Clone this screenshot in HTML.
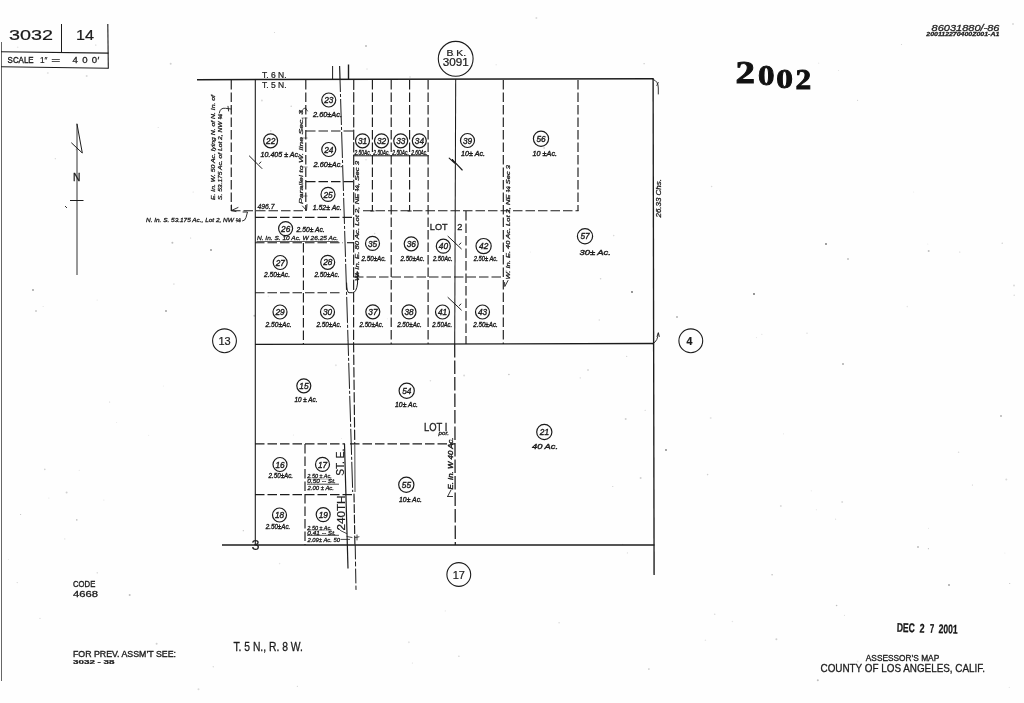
<!DOCTYPE html>
<html><head><meta charset="utf-8"><title>Assessor's Map 3032-14</title>
<style>
html,body{margin:0;padding:0;background:#fefefe;}
body{width:1024px;height:703px;overflow:hidden;font-family:"Liberation Sans",sans-serif;}
svg{display:block;filter:blur(0.22px);}
</style></head><body>
<svg width="1024" height="703" viewBox="0 0 1024 703">
<rect width="1024" height="703" fill="#fefefe"/>
<g><circle cx="333.7" cy="109.8" r="0.5" fill="#000" opacity="0.1"/>
<circle cx="838.6" cy="70.4" r="0.5" fill="#000" opacity="0.14"/>
<circle cx="43.1" cy="306.4" r="0.5" fill="#000" opacity="0.14"/>
<circle cx="97.1" cy="300.0" r="0.5" fill="#000" opacity="0.14"/>
<circle cx="645.1" cy="410.2" r="0.5" fill="#000" opacity="0.25"/>
<circle cx="55.3" cy="158.7" r="0.6" fill="#000" opacity="0.18"/>
<circle cx="430.4" cy="380.8" r="0.8" fill="#000" opacity="0.14"/>
<circle cx="109.6" cy="402.0" r="0.6" fill="#000" opacity="0.18"/>
<circle cx="103.9" cy="499.9" r="0.5" fill="#000" opacity="0.14"/>
<circle cx="508.9" cy="374.5" r="0.8" fill="#000" opacity="0.25"/>
<circle cx="599.3" cy="320.0" r="0.8" fill="#000" opacity="0.14"/>
<circle cx="811.3" cy="490.8" r="0.6" fill="#000" opacity="0.1"/>
<circle cx="588.0" cy="370.0" r="0.8" fill="#000" opacity="0.25"/>
<circle cx="297.3" cy="686.2" r="0.5" fill="#000" opacity="0.25"/>
<circle cx="172.4" cy="242.7" r="1.0" fill="#000" opacity="0.25"/>
<circle cx="44.8" cy="469.4" r="0.8" fill="#000" opacity="0.18"/>
<circle cx="710.7" cy="418.1" r="1.0" fill="#000" opacity="0.1"/>
<circle cx="857.6" cy="661.6" r="1.0" fill="#000" opacity="0.1"/>
<circle cx="66.6" cy="492.5" r="1.0" fill="#000" opacity="0.18"/>
<circle cx="732.4" cy="621.5" r="0.8" fill="#000" opacity="0.1"/>
<circle cx="959.8" cy="252.0" r="0.5" fill="#000" opacity="0.25"/>
<circle cx="64.8" cy="538.9" r="0.6" fill="#000" opacity="0.14"/>
<circle cx="408.9" cy="642.2" r="1.0" fill="#000" opacity="0.1"/>
<circle cx="173.9" cy="284.1" r="0.8" fill="#000" opacity="0.14"/>
<circle cx="836.6" cy="605.5" r="0.8" fill="#000" opacity="0.25"/>
<circle cx="1006.3" cy="479.5" r="1.0" fill="#000" opacity="0.14"/>
<circle cx="158.2" cy="127.5" r="0.6" fill="#000" opacity="0.14"/>
<circle cx="17.2" cy="582.6" r="0.6" fill="#000" opacity="0.18"/>
<circle cx="291.2" cy="106.2" r="0.8" fill="#000" opacity="0.18"/>
<circle cx="972.4" cy="484.9" r="0.5" fill="#000" opacity="0.25"/>
<circle cx="918.0" cy="547.1" r="1.0" fill="#000" opacity="0.25"/>
<circle cx="410.0" cy="77.0" r="1.0" fill="#000" opacity="0.1"/>
<circle cx="198.5" cy="689.3" r="1.0" fill="#000" opacity="0.14"/>
<circle cx="116.6" cy="422.5" r="0.5" fill="#000" opacity="0.1"/>
<circle cx="580.3" cy="377.9" r="0.8" fill="#000" opacity="0.1"/>
<circle cx="76.4" cy="149.5" r="1.0" fill="#000" opacity="0.14"/>
<circle cx="648.9" cy="669.1" r="0.8" fill="#000" opacity="0.25"/>
<circle cx="129.7" cy="595.0" r="1.0" fill="#000" opacity="0.25"/>
<circle cx="496.1" cy="64.7" r="0.5" fill="#000" opacity="0.18"/>
<circle cx="756.5" cy="337.6" r="0.6" fill="#000" opacity="0.1"/>
<circle cx="213.3" cy="666.7" r="0.8" fill="#000" opacity="0.14"/>
<circle cx="705.4" cy="640.3" r="0.8" fill="#000" opacity="0.1"/>
<circle cx="711.6" cy="186.5" r="0.8" fill="#000" opacity="0.14"/>
<circle cx="366.0" cy="159.8" r="0.8" fill="#000" opacity="0.14"/>
<circle cx="627.4" cy="552.9" r="0.6" fill="#000" opacity="0.14"/>
<circle cx="835.6" cy="519.2" r="0.6" fill="#000" opacity="0.14"/>
<circle cx="530.4" cy="252.1" r="0.5" fill="#000" opacity="0.1"/>
<circle cx="807.0" cy="333.2" r="0.6" fill="#000" opacity="0.18"/>
<circle cx="458.9" cy="656.2" r="0.8" fill="#000" opacity="0.18"/>
<circle cx="86.7" cy="76.0" r="1.0" fill="#000" opacity="0.14"/>
<circle cx="347.8" cy="340.4" r="0.5" fill="#000" opacity="0.25"/>
<circle cx="927.8" cy="244.1" r="0.5" fill="#000" opacity="0.1"/>
<circle cx="928.4" cy="548.7" r="0.6" fill="#000" opacity="0.25"/>
<circle cx="907.3" cy="306.6" r="0.8" fill="#000" opacity="0.1"/>
<circle cx="817.8" cy="680.3" r="1.0" fill="#000" opacity="0.25"/>
<circle cx="412.4" cy="663.0" r="0.6" fill="#000" opacity="0.14"/>
<circle cx="1013.0" cy="24.1" r="1.0" fill="#000" opacity="0.14"/>
<circle cx="625.7" cy="419.1" r="1.0" fill="#000" opacity="0.18"/>
<circle cx="163.3" cy="386.1" r="0.5" fill="#000" opacity="0.1"/>
<circle cx="816.3" cy="509.8" r="0.5" fill="#000" opacity="0.14"/>
<circle cx="445.3" cy="610.9" r="0.6" fill="#000" opacity="0.1"/>
<circle cx="260.6" cy="208.6" r="0.6" fill="#000" opacity="0.18"/>
<circle cx="268.3" cy="296.2" r="0.6" fill="#000" opacity="0.1"/>
<circle cx="928.7" cy="250.9" r="1.0" fill="#000" opacity="0.25"/>
<circle cx="844.5" cy="615.3" r="0.6" fill="#000" opacity="0.14"/>
<circle cx="536.4" cy="18.0" r="1.0" fill="#000" opacity="0.14"/>
<circle cx="622.7" cy="544.3" r="0.6" fill="#000" opacity="0.14"/>
<circle cx="148.7" cy="435.3" r="0.5" fill="#000" opacity="0.1"/>
<circle cx="335.9" cy="365.3" r="1.0" fill="#000" opacity="0.1"/>
<circle cx="901.5" cy="44.5" r="0.6" fill="#000" opacity="0.18"/>
<circle cx="47.8" cy="72.9" r="1.0" fill="#000" opacity="0.1"/>
<circle cx="776.4" cy="639.2" r="1.0" fill="#000" opacity="0.18"/>
<circle cx="626.7" cy="356.4" r="0.6" fill="#000" opacity="0.18"/>
<circle cx="464.1" cy="375.6" r="1.0" fill="#000" opacity="0.14"/>
<circle cx="714.7" cy="614.2" r="0.8" fill="#000" opacity="0.14"/>
<circle cx="857.6" cy="100.3" r="0.5" fill="#000" opacity="0.25"/>
<circle cx="453.7" cy="55.4" r="0.6" fill="#000" opacity="0.25"/>
<circle cx="79.2" cy="470.3" r="0.5" fill="#000" opacity="0.14"/>
<circle cx="958.6" cy="452.2" r="0.8" fill="#000" opacity="0.14"/>
<circle cx="261.9" cy="100.4" r="1.0" fill="#000" opacity="0.14"/>
<circle cx="762.9" cy="70.4" r="1.0" fill="#000" opacity="0.14"/>
<circle cx="1009.7" cy="583.5" r="0.6" fill="#000" opacity="0.25"/>
<circle cx="1014.0" cy="285.6" r="1.0" fill="#000" opacity="0.14"/>
<circle cx="367.0" cy="69.1" r="0.8" fill="#000" opacity="0.1"/>
<circle cx="348.0" cy="323.8" r="0.5" fill="#000" opacity="0.25"/>
<circle cx="341.5" cy="438.6" r="0.5" fill="#000" opacity="0.1"/>
<circle cx="1004.9" cy="552.9" r="0.5" fill="#000" opacity="0.1"/>
<circle cx="274.5" cy="32.5" r="0.6" fill="#000" opacity="0.18"/>
<circle cx="772.1" cy="574.7" r="0.8" fill="#000" opacity="0.25"/>
<circle cx="156.6" cy="643.8" r="1.0" fill="#000" opacity="0.18"/>
<circle cx="95.8" cy="45.0" r="0.6" fill="#000" opacity="0.25"/>
<circle cx="913.7" cy="191.9" r="0.5" fill="#000" opacity="0.1"/>
<circle cx="818.7" cy="63.2" r="0.6" fill="#000" opacity="0.1"/>
<circle cx="273.4" cy="89.6" r="0.5" fill="#000" opacity="0.18"/>
<circle cx="1014.2" cy="295.3" r="0.8" fill="#000" opacity="0.14"/>
<circle cx="48.9" cy="498.1" r="0.5" fill="#000" opacity="0.14"/>
<circle cx="270.8" cy="130.9" r="0.8" fill="#000" opacity="0.18"/>
<circle cx="544.1" cy="148.1" r="1.0" fill="#000" opacity="0.14"/>
<circle cx="279.6" cy="563.6" r="0.8" fill="#000" opacity="0.1"/>
<circle cx="20.6" cy="514.5" r="0.6" fill="#000" opacity="0.25"/>
<circle cx="254.4" cy="315.7" r="1.0" fill="#000" opacity="0.25"/>
<circle cx="559.1" cy="622.7" r="0.8" fill="#000" opacity="0.14"/>
<circle cx="1002.2" cy="243.2" r="0.6" fill="#000" opacity="0.25"/>
<circle cx="1009.3" cy="687.4" r="0.6" fill="#000" opacity="0.1"/>
<circle cx="76.8" cy="519.9" r="0.8" fill="#000" opacity="0.25"/>
<circle cx="170.7" cy="63.7" r="1.0" fill="#000" opacity="0.18"/>
<circle cx="612.8" cy="486.4" r="0.5" fill="#000" opacity="0.25"/>
<circle cx="193.1" cy="192.0" r="0.5" fill="#000" opacity="0.18"/>
<circle cx="374.6" cy="233.6" r="0.8" fill="#000" opacity="0.14"/>
<circle cx="40.0" cy="618.3" r="0.6" fill="#000" opacity="0.18"/>
<circle cx="190.7" cy="238.1" r="0.5" fill="#000" opacity="0.25"/>
<circle cx="288.1" cy="460.9" r="0.6" fill="#000" opacity="0.1"/>
<circle cx="97.2" cy="572.8" r="0.6" fill="#000" opacity="0.25"/>
<circle cx="600.6" cy="278.8" r="0.8" fill="#000" opacity="0.18"/>
<circle cx="644.1" cy="63.7" r="0.6" fill="#000" opacity="0.25"/>
<circle cx="780.8" cy="505.9" r="1.0" fill="#000" opacity="0.14"/>
<circle cx="293.4" cy="435.0" r="0.6" fill="#000" opacity="0.1"/>
<circle cx="842.2" cy="501.9" r="1.0" fill="#000" opacity="0.14"/>
<circle cx="928.5" cy="528.2" r="0.5" fill="#000" opacity="0.14"/>
<circle cx="91.4" cy="34.1" r="0.8" fill="#000" opacity="0.1"/>
<circle cx="387.3" cy="318.7" r="0.5" fill="#000" opacity="0.1"/>
<circle cx="640.6" cy="478.1" r="1.0" fill="#000" opacity="0.18"/>
<circle cx="8.4" cy="559.4" r="0.5" fill="#000" opacity="0.1"/>
<circle cx="761.9" cy="334.3" r="0.5" fill="#000" opacity="0.18"/>
<circle cx="243.3" cy="530.7" r="0.6" fill="#000" opacity="0.25"/>
<circle cx="506.4" cy="270.9" r="1.0" fill="#000" opacity="0.18"/>
<circle cx="783.5" cy="433.8" r="0.6" fill="#000" opacity="0.1"/>
<circle cx="613.7" cy="235.6" r="0.8" fill="#000" opacity="0.14"/>
<circle cx="17.7" cy="47.2" r="0.8" fill="#000" opacity="0.1"/>
<circle cx="707.6" cy="474.6" r="0.8" fill="#000" opacity="0.18"/>
<circle cx="826" cy="244" r="0.9" fill="#000" opacity="0.55"/>
<circle cx="843" cy="364" r="0.8" fill="#000" opacity="0.55"/>
<circle cx="754" cy="294" r="0.9" fill="#000" opacity="0.6"/>
<circle cx="848" cy="259" r="0.8" fill="#000" opacity="0.4"/>
<circle cx="1001" cy="416" r="0.8" fill="#000" opacity="0.5"/>
<circle cx="949" cy="585" r="0.8" fill="#000" opacity="0.6"/>
<circle cx="666" cy="450" r="0.9" fill="#000" opacity="0.5"/>
<circle cx="33" cy="290" r="0.9" fill="#000" opacity="0.4"/>
<circle cx="36" cy="311" r="0.8" fill="#000" opacity="0.35"/>
<circle cx="211" cy="250" r="0.9" fill="#000" opacity="0.45"/>
<circle cx="166" cy="311" r="0.9" fill="#000" opacity="0.4"/>
<circle cx="366" cy="46" r="0.8" fill="#000" opacity="0.45"/>
<circle cx="632" cy="292" r="0.9" fill="#000" opacity="0.6"/>
<circle cx="677" cy="317" r="0.8" fill="#000" opacity="0.5"/></g>
<g><line x1="1.5" y1="42" x2="1.5" y2="681" stroke="#555" stroke-width="0.9"/>
<line x1="61.5" y1="24" x2="61.5" y2="52.5" stroke="#1c1c1c" stroke-width="1.0"/>
<line x1="107.8" y1="24" x2="108.3" y2="68.5" stroke="#1c1c1c" stroke-width="1.1"/>
<line x1="1" y1="51.8" x2="108.5" y2="53.1" stroke="#1c1c1c" stroke-width="1.1"/>
<line x1="1" y1="66.8" x2="108.5" y2="68.3" stroke="#1c1c1c" stroke-width="1.1"/>
<text x="9" y="40.2" font-family="Liberation Sans, sans-serif" font-size="15.5" font-style="normal" font-weight="normal" text-anchor="start" fill="#1c1c1c" textLength="44" lengthAdjust="spacingAndGlyphs" stroke="#1c1c1c" stroke-width="0.22">3032</text>
<text x="76" y="40.2" font-family="Liberation Sans, sans-serif" font-size="15.5" font-style="normal" font-weight="normal" text-anchor="start" fill="#1c1c1c" textLength="18" lengthAdjust="spacingAndGlyphs" stroke="#1c1c1c" stroke-width="0.22">14</text>
<text x="7.6" y="63.0" font-family="Liberation Sans, sans-serif" font-size="9.6" font-style="normal" font-weight="normal" text-anchor="start" fill="#1c1c1c" textLength="26" lengthAdjust="spacingAndGlyphs" stroke="#1c1c1c" stroke-width="0.4">SCALE</text>
<text x="40" y="63.2" font-family="Liberation Sans, sans-serif" font-size="9.6" font-style="normal" font-weight="normal" text-anchor="start" fill="#1c1c1c" textLength="7.5" lengthAdjust="spacingAndGlyphs" stroke="#1c1c1c" stroke-width="0.22">1&#8243;</text>
<text x="51.2" y="63.0" font-family="Liberation Sans, sans-serif" font-size="9.6" font-style="normal" font-weight="normal" text-anchor="start" fill="#1c1c1c" textLength="9" lengthAdjust="spacingAndGlyphs" stroke="#1c1c1c" stroke-width="0.22">=</text>
<text x="72.6" y="63.4" font-family="Liberation Sans, sans-serif" font-size="9.6" font-style="normal" font-weight="normal" text-anchor="start" fill="#1c1c1c" textLength="24.5" lengthAdjust="spacing" stroke="#1c1c1c" stroke-width="0.3">400</text>
<text x="97.6" y="63.0" font-family="Liberation Sans, sans-serif" font-size="9.6" font-style="normal" font-weight="normal" text-anchor="start" fill="#1c1c1c" stroke="#1c1c1c" stroke-width="0.3">&#8242;</text>
<line x1="77" y1="124" x2="77" y2="275" stroke="#1c1c1c" stroke-width="0.9"/>
<path d="M77 124 L82.3 153 L71.6 143" fill="none" stroke="#1c1c1c" stroke-width="1.0" stroke-linecap="round" stroke-linejoin="round"/>
<line x1="70" y1="200.5" x2="83.5" y2="200.5" stroke="#1c1c1c" stroke-width="1.0"/>
<text x="76.8" y="180.6" font-family="Liberation Sans, sans-serif" font-size="10.3" font-style="normal" font-weight="normal" text-anchor="middle" fill="#1c1c1c" stroke="#1c1c1c" stroke-width="0.3">N</text>
<line x1="65" y1="206" x2="67" y2="208" stroke="#1c1c1c" stroke-width="0.9"/>
<line x1="197" y1="79.7" x2="653.6" y2="78.7" stroke="#1c1c1c" stroke-width="1.45"/>
<line x1="255.3" y1="79" x2="255.3" y2="545" stroke="#1c1c1c" stroke-width="1.1"/>
<line x1="455.7" y1="79" x2="454.7" y2="344" stroke="#1c1c1c" stroke-width="1.05"/>
<line x1="454.7" y1="344" x2="455.3" y2="545" stroke="#1c1c1c" stroke-width="1.25" stroke-dasharray="13.5 3" stroke-dashoffset="0"/>
<line x1="653.1" y1="78.5" x2="654.1" y2="575" stroke="#1c1c1c" stroke-width="1.35"/>
<line x1="255" y1="344.3" x2="654" y2="343.5" stroke="#1c1c1c" stroke-width="1.3"/>
<line x1="222" y1="545" x2="654.4" y2="545" stroke="#1c1c1c" stroke-width="1.5"/>
<line x1="332.6" y1="66" x2="332.6" y2="79" stroke="#1c1c1c" stroke-width="1.0"/>
<line x1="348.5" y1="64.5" x2="348.5" y2="79" stroke="#1c1c1c" stroke-width="1.4"/>
<line x1="339.6" y1="66" x2="352.7" y2="492" stroke="#1c1c1c" stroke-width="1.0" stroke-dasharray="26 2 3 2" stroke-dashoffset="0"/>
<line x1="339.7" y1="66" x2="340" y2="79" stroke="#1c1c1c" stroke-width="0.5"/>
<line x1="344.5" y1="444" x2="348" y2="568.5" stroke="#1c1c1c" stroke-width="1.2"/>
<path d="M353.75 80 L353.6 344 L354.75 444" fill="none" stroke="#1c1c1c" stroke-width="1.15" stroke-linecap="round" stroke-linejoin="round" stroke-dasharray="9.5 3"/>
<line x1="354.8" y1="445" x2="355.0" y2="492" stroke="#1c1c1c" stroke-width="0.8"/>
<line x1="351.4" y1="445" x2="352.7" y2="492" stroke="#1c1c1c" stroke-width="0.0"/>
<path d="M354.0 494 L354.9 545" fill="none" stroke="#1c1c1c" stroke-width="1.15" stroke-linecap="round" stroke-linejoin="round" stroke-dasharray="8 2.5"/>
<path d="M355.2 545 L356 589.5" fill="none" stroke="#1c1c1c" stroke-width="1.0" stroke-linecap="round" stroke-linejoin="round" stroke-dasharray="14 3 4 3"/>
<line x1="353.5" y1="155.8" x2="428.5" y2="155.8" stroke="#1c1c1c" stroke-width="1.0"/>
<line x1="231.25" y1="80" x2="231.25" y2="211" stroke="#1c1c1c" stroke-width="1.15" stroke-dasharray="9.5 3" stroke-dashoffset="0"/>
<line x1="305.8" y1="80" x2="305.8" y2="211" stroke="#1c1c1c" stroke-width="1.15" stroke-dasharray="9.5 3" stroke-dashoffset="0"/>
<line x1="372.4" y1="80" x2="372.4" y2="211" stroke="#1c1c1c" stroke-width="1.15" stroke-dasharray="9.5 3" stroke-dashoffset="0"/>
<line x1="391.2" y1="80" x2="391.2" y2="344" stroke="#1c1c1c" stroke-width="1.15" stroke-dasharray="9.5 3" stroke-dashoffset="0"/>
<line x1="409.6" y1="80" x2="409.6" y2="211" stroke="#1c1c1c" stroke-width="1.15" stroke-dasharray="9.5 3" stroke-dashoffset="0"/>
<line x1="428.1" y1="80" x2="428.1" y2="344" stroke="#1c1c1c" stroke-width="1.15" stroke-dasharray="9.5 3" stroke-dashoffset="0"/>
<line x1="466" y1="211" x2="466" y2="344" stroke="#1c1c1c" stroke-width="1.15" stroke-dasharray="9.5 3" stroke-dashoffset="0"/>
<line x1="503.3" y1="80" x2="503.3" y2="344" stroke="#1c1c1c" stroke-width="1.15" stroke-dasharray="9.5 3" stroke-dashoffset="0"/>
<line x1="578" y1="80" x2="578" y2="211" stroke="#1c1c1c" stroke-width="1.15" stroke-dasharray="9.5 3" stroke-dashoffset="0"/>
<line x1="303.4" y1="243" x2="303.4" y2="344" stroke="#1c1c1c" stroke-width="1.15" stroke-dasharray="9.5 3" stroke-dashoffset="0"/>
<line x1="305" y1="444" x2="305" y2="545" stroke="#1c1c1c" stroke-width="1.15" stroke-dasharray="9.5 3" stroke-dashoffset="0"/>
<line x1="306" y1="131" x2="354" y2="131" stroke="#1c1c1c" stroke-width="1.15" stroke-dasharray="9.5 3" stroke-dashoffset="0"/>
<line x1="306" y1="181.6" x2="354" y2="181.6" stroke="#1c1c1c" stroke-width="1.15" stroke-dasharray="9.5 3" stroke-dashoffset="0"/>
<line x1="231" y1="210.7" x2="306" y2="210.7" stroke="#1c1c1c" stroke-width="1.15" stroke-dasharray="9.5 3" stroke-dashoffset="0"/>
<line x1="363" y1="210.7" x2="578.5" y2="210.7" stroke="#1c1c1c" stroke-width="1.15" stroke-dasharray="9.5 3" stroke-dashoffset="0"/>
<line x1="255" y1="217.4" x2="353.5" y2="217.4" stroke="#1c1c1c" stroke-width="1.15" stroke-dasharray="9.5 3" stroke-dashoffset="0"/>
<line x1="255" y1="242.7" x2="343" y2="242.7" stroke="#1c1c1c" stroke-width="1.15" stroke-dasharray="9.5 3" stroke-dashoffset="0"/>
<line x1="347" y1="242.7" x2="354" y2="242.7" stroke="#1c1c1c" stroke-width="1.15" stroke-dasharray="9.5 3" stroke-dashoffset="0"/>
<line x1="354" y1="277" x2="503" y2="277" stroke="#1c1c1c" stroke-width="1.15" stroke-dasharray="9.5 3" stroke-dashoffset="0"/>
<line x1="255" y1="292.7" x2="342" y2="292.7" stroke="#1c1c1c" stroke-width="1.15" stroke-dasharray="9.5 3" stroke-dashoffset="0"/>
<line x1="255" y1="443.8" x2="345" y2="443.8" stroke="#1c1c1c" stroke-width="1.15" stroke-dasharray="9.5 3" stroke-dashoffset="0"/>
<line x1="350" y1="443.8" x2="455" y2="443.8" stroke="#1c1c1c" stroke-width="1.15" stroke-dasharray="9.5 3" stroke-dashoffset="0"/>
<line x1="255" y1="494.6" x2="355" y2="494.6" stroke="#1c1c1c" stroke-width="1.15" stroke-dasharray="9.5 3" stroke-dashoffset="0"/>
<path d="M346.6 283 Q346.8 292.7 349 292.7 L352.5 292.7 Q356.5 292.7 357.6 283 L357.3 272" fill="none" stroke="#1c1c1c" stroke-width="1.0" stroke-linecap="round" stroke-linejoin="round"/>
<path d="M355.9 275.5 L357.3 271.5 L358.6 275.5" fill="none" stroke="#1c1c1c" stroke-width="0.8" stroke-linecap="round" stroke-linejoin="round"/>
<path d="M249.4 156 L261.9 168.5 M259.5 163.5 L260.8 162" fill="none" stroke="#1c1c1c" stroke-width="1.0" stroke-linecap="round" stroke-linejoin="round"/>
<path d="M448 236.3 L461.3 248.8 M459.5 244.5 L460.8 243" fill="none" stroke="#1c1c1c" stroke-width="1.0" stroke-linecap="round" stroke-linejoin="round"/>
<path d="M448 297.5 L461.3 310 M459.5 305.5 L460.8 304" fill="none" stroke="#1c1c1c" stroke-width="1.0" stroke-linecap="round" stroke-linejoin="round"/>
<path d="M449.2 158.2 L454.6 163.2 L452.4 159.6 L462.2 170" fill="none" stroke="#1c1c1c" stroke-width="1.15" stroke-linecap="round" stroke-linejoin="round"/>
<line x1="370.4" y1="211" x2="374.4" y2="211" stroke="#1c1c1c" stroke-width="1.0"/>
<line x1="407.6" y1="211" x2="411.6" y2="211" stroke="#1c1c1c" stroke-width="1.0"/>
<path d="M653 79.4 Q658.3 81 658.3 88 L658.3 94" fill="none" stroke="#1c1c1c" stroke-width="0.9" stroke-linecap="round" stroke-linejoin="round"/>
<path d="M656.8 85.5 L658.3 82.5" fill="none" stroke="#1c1c1c" stroke-width="0.8" stroke-linecap="round" stroke-linejoin="round"/>
<path d="M653 343.6 Q658 341 658.3 333" fill="none" stroke="#1c1c1c" stroke-width="0.9" stroke-linecap="round" stroke-linejoin="round"/>
<path d="M657 336.5 L658.4 332.8 L659.4 336.5" fill="none" stroke="#1c1c1c" stroke-width="0.8" stroke-linecap="round" stroke-linejoin="round"/>
<text x="660.8" y="217.5" font-family="Liberation Sans, sans-serif" font-size="6.3" font-style="italic" font-weight="normal" text-anchor="start" fill="#1c1c1c" textLength="38.5" lengthAdjust="spacingAndGlyphs" transform="rotate(-90 660.8 217.5)" stroke="#1c1c1c" stroke-width="0.28">26.33 Chs.</text>
<path d="M231 109 L225.5 108.3 Q220 107.5 219.3 113" fill="none" stroke="#1c1c1c" stroke-width="0.9" stroke-linecap="round" stroke-linejoin="round"/>
<path d="M228 106.3 L228.6 111" fill="none" stroke="#1c1c1c" stroke-width="0.9" stroke-linecap="round" stroke-linejoin="round"/>
<path d="M231.5 210.5 L231.5 205 M231.5 210.5 L238 207.5 M231.5 210.5 L236 211.5" fill="none" stroke="#1c1c1c" stroke-width="0.9" stroke-linecap="round" stroke-linejoin="round"/>
<path d="M243 212 L247.5 212 L246 217.5 Q245 221 242.5 221" fill="none" stroke="#1c1c1c" stroke-width="0.9" stroke-linecap="round" stroke-linejoin="round"/>
<path d="M302.5 206 L306.5 210.5 L307 204.5" fill="none" stroke="#1c1c1c" stroke-width="0.9" stroke-linecap="round" stroke-linejoin="round"/>
<path d="M301.5 113 Q302 108.5 305.5 108 L307.5 111" fill="none" stroke="#1c1c1c" stroke-width="0.8" stroke-linecap="round" stroke-linejoin="round"/>
<path d="M508 280.5 L504.8 286.5 L504.6 282.5" fill="none" stroke="#1c1c1c" stroke-width="0.9" stroke-linecap="round" stroke-linejoin="round"/>
<circle cx="328.75" cy="100" r="7.0" fill="none" stroke="#1c1c1c" stroke-width="1.2"/>
<text x="328.85" y="103.1" font-family="Liberation Sans, sans-serif" font-size="8.8" font-style="italic" font-weight="normal" text-anchor="middle" fill="#1c1c1c" textLength="9.2" lengthAdjust="spacingAndGlyphs" stroke="#1c1c1c" stroke-width="0.38">23</text>
<circle cx="270.6" cy="140.8" r="7.0" fill="none" stroke="#1c1c1c" stroke-width="1.2"/>
<text x="270.70000000000005" y="143.9" font-family="Liberation Sans, sans-serif" font-size="8.8" font-style="italic" font-weight="normal" text-anchor="middle" fill="#1c1c1c" textLength="9.2" lengthAdjust="spacingAndGlyphs" stroke="#1c1c1c" stroke-width="0.38">22</text>
<circle cx="328.75" cy="149.5" r="7.0" fill="none" stroke="#1c1c1c" stroke-width="1.2"/>
<text x="328.85" y="152.6" font-family="Liberation Sans, sans-serif" font-size="8.8" font-style="italic" font-weight="normal" text-anchor="middle" fill="#1c1c1c" textLength="9.2" lengthAdjust="spacingAndGlyphs" stroke="#1c1c1c" stroke-width="0.38">24</text>
<circle cx="328" cy="194.4" r="7.0" fill="none" stroke="#1c1c1c" stroke-width="1.2"/>
<text x="328.1" y="197.5" font-family="Liberation Sans, sans-serif" font-size="8.8" font-style="italic" font-weight="normal" text-anchor="middle" fill="#1c1c1c" textLength="9.2" lengthAdjust="spacingAndGlyphs" stroke="#1c1c1c" stroke-width="0.38">25</text>
<circle cx="362.5" cy="140.8" r="7.0" fill="none" stroke="#1c1c1c" stroke-width="1.2"/>
<text x="362.6" y="143.9" font-family="Liberation Sans, sans-serif" font-size="8.8" font-style="italic" font-weight="normal" text-anchor="middle" fill="#1c1c1c" textLength="9.2" lengthAdjust="spacingAndGlyphs" stroke="#1c1c1c" stroke-width="0.38">31</text>
<circle cx="381.5" cy="140.8" r="7.0" fill="none" stroke="#1c1c1c" stroke-width="1.2"/>
<text x="381.6" y="143.9" font-family="Liberation Sans, sans-serif" font-size="8.8" font-style="italic" font-weight="normal" text-anchor="middle" fill="#1c1c1c" textLength="9.2" lengthAdjust="spacingAndGlyphs" stroke="#1c1c1c" stroke-width="0.38">32</text>
<circle cx="400.7" cy="140.8" r="7.0" fill="none" stroke="#1c1c1c" stroke-width="1.2"/>
<text x="400.8" y="143.9" font-family="Liberation Sans, sans-serif" font-size="8.8" font-style="italic" font-weight="normal" text-anchor="middle" fill="#1c1c1c" textLength="9.2" lengthAdjust="spacingAndGlyphs" stroke="#1c1c1c" stroke-width="0.38">33</text>
<circle cx="419.3" cy="140.8" r="7.0" fill="none" stroke="#1c1c1c" stroke-width="1.2"/>
<text x="419.40000000000003" y="143.9" font-family="Liberation Sans, sans-serif" font-size="8.8" font-style="italic" font-weight="normal" text-anchor="middle" fill="#1c1c1c" textLength="9.2" lengthAdjust="spacingAndGlyphs" stroke="#1c1c1c" stroke-width="0.38">34</text>
<circle cx="467.5" cy="140.5" r="7.0" fill="none" stroke="#1c1c1c" stroke-width="1.2"/>
<text x="467.6" y="143.6" font-family="Liberation Sans, sans-serif" font-size="8.8" font-style="italic" font-weight="normal" text-anchor="middle" fill="#1c1c1c" textLength="9.2" lengthAdjust="spacingAndGlyphs" stroke="#1c1c1c" stroke-width="0.38">39</text>
<circle cx="541" cy="138.8" r="7.6" fill="none" stroke="#1c1c1c" stroke-width="1.2"/>
<text x="541.1" y="141.9" font-family="Liberation Sans, sans-serif" font-size="8.8" font-style="italic" font-weight="normal" text-anchor="middle" fill="#1c1c1c" textLength="9.2" lengthAdjust="spacingAndGlyphs" stroke="#1c1c1c" stroke-width="0.38">56</text>
<circle cx="585" cy="236.3" r="7.6" fill="none" stroke="#1c1c1c" stroke-width="1.2"/>
<text x="585.1" y="239.4" font-family="Liberation Sans, sans-serif" font-size="8.8" font-style="italic" font-weight="normal" text-anchor="middle" fill="#1c1c1c" textLength="9.2" lengthAdjust="spacingAndGlyphs" stroke="#1c1c1c" stroke-width="0.38">57</text>
<circle cx="285.6" cy="228.6" r="7.0" fill="none" stroke="#1c1c1c" stroke-width="1.2"/>
<text x="285.70000000000005" y="231.7" font-family="Liberation Sans, sans-serif" font-size="8.8" font-style="italic" font-weight="normal" text-anchor="middle" fill="#1c1c1c" textLength="9.2" lengthAdjust="spacingAndGlyphs" stroke="#1c1c1c" stroke-width="0.38">26</text>
<circle cx="280.2" cy="262.5" r="7.0" fill="none" stroke="#1c1c1c" stroke-width="1.2"/>
<text x="280.3" y="265.6" font-family="Liberation Sans, sans-serif" font-size="8.8" font-style="italic" font-weight="normal" text-anchor="middle" fill="#1c1c1c" textLength="9.2" lengthAdjust="spacingAndGlyphs" stroke="#1c1c1c" stroke-width="0.38">27</text>
<circle cx="327.7" cy="262.3" r="7.0" fill="none" stroke="#1c1c1c" stroke-width="1.2"/>
<text x="327.8" y="265.40000000000003" font-family="Liberation Sans, sans-serif" font-size="8.8" font-style="italic" font-weight="normal" text-anchor="middle" fill="#1c1c1c" textLength="9.2" lengthAdjust="spacingAndGlyphs" stroke="#1c1c1c" stroke-width="0.38">28</text>
<circle cx="280" cy="312" r="7.0" fill="none" stroke="#1c1c1c" stroke-width="1.2"/>
<text x="280.1" y="315.1" font-family="Liberation Sans, sans-serif" font-size="8.8" font-style="italic" font-weight="normal" text-anchor="middle" fill="#1c1c1c" textLength="9.2" lengthAdjust="spacingAndGlyphs" stroke="#1c1c1c" stroke-width="0.38">29</text>
<circle cx="327.5" cy="312" r="7.0" fill="none" stroke="#1c1c1c" stroke-width="1.2"/>
<text x="327.6" y="315.1" font-family="Liberation Sans, sans-serif" font-size="8.8" font-style="italic" font-weight="normal" text-anchor="middle" fill="#1c1c1c" textLength="9.2" lengthAdjust="spacingAndGlyphs" stroke="#1c1c1c" stroke-width="0.38">30</text>
<circle cx="372.5" cy="243.4" r="7.0" fill="none" stroke="#1c1c1c" stroke-width="1.2"/>
<text x="372.6" y="246.5" font-family="Liberation Sans, sans-serif" font-size="8.8" font-style="italic" font-weight="normal" text-anchor="middle" fill="#1c1c1c" textLength="9.2" lengthAdjust="spacingAndGlyphs" stroke="#1c1c1c" stroke-width="0.38">35</text>
<circle cx="411.2" cy="243.8" r="7.0" fill="none" stroke="#1c1c1c" stroke-width="1.2"/>
<text x="411.3" y="246.9" font-family="Liberation Sans, sans-serif" font-size="8.8" font-style="italic" font-weight="normal" text-anchor="middle" fill="#1c1c1c" textLength="9.2" lengthAdjust="spacingAndGlyphs" stroke="#1c1c1c" stroke-width="0.38">36</text>
<circle cx="443.3" cy="246.2" r="7.0" fill="none" stroke="#1c1c1c" stroke-width="1.2"/>
<text x="443.40000000000003" y="249.29999999999998" font-family="Liberation Sans, sans-serif" font-size="8.8" font-style="italic" font-weight="normal" text-anchor="middle" fill="#1c1c1c" textLength="9.2" lengthAdjust="spacingAndGlyphs" stroke="#1c1c1c" stroke-width="0.38">40</text>
<circle cx="483.6" cy="246.1" r="7.6" fill="none" stroke="#1c1c1c" stroke-width="1.2"/>
<text x="483.70000000000005" y="249.2" font-family="Liberation Sans, sans-serif" font-size="8.8" font-style="italic" font-weight="normal" text-anchor="middle" fill="#1c1c1c" textLength="9.2" lengthAdjust="spacingAndGlyphs" stroke="#1c1c1c" stroke-width="0.38">42</text>
<circle cx="372.8" cy="311.8" r="7.0" fill="none" stroke="#1c1c1c" stroke-width="1.2"/>
<text x="372.90000000000003" y="314.90000000000003" font-family="Liberation Sans, sans-serif" font-size="8.8" font-style="italic" font-weight="normal" text-anchor="middle" fill="#1c1c1c" textLength="9.2" lengthAdjust="spacingAndGlyphs" stroke="#1c1c1c" stroke-width="0.38">37</text>
<circle cx="409" cy="311.9" r="7.0" fill="none" stroke="#1c1c1c" stroke-width="1.2"/>
<text x="409.1" y="315.0" font-family="Liberation Sans, sans-serif" font-size="8.8" font-style="italic" font-weight="normal" text-anchor="middle" fill="#1c1c1c" textLength="9.2" lengthAdjust="spacingAndGlyphs" stroke="#1c1c1c" stroke-width="0.38">38</text>
<circle cx="442.5" cy="312" r="7.0" fill="none" stroke="#1c1c1c" stroke-width="1.2"/>
<text x="442.6" y="315.1" font-family="Liberation Sans, sans-serif" font-size="8.8" font-style="italic" font-weight="normal" text-anchor="middle" fill="#1c1c1c" textLength="9.2" lengthAdjust="spacingAndGlyphs" stroke="#1c1c1c" stroke-width="0.38">41</text>
<circle cx="482.5" cy="312" r="7.0" fill="none" stroke="#1c1c1c" stroke-width="1.2"/>
<text x="482.6" y="315.1" font-family="Liberation Sans, sans-serif" font-size="8.8" font-style="italic" font-weight="normal" text-anchor="middle" fill="#1c1c1c" textLength="9.2" lengthAdjust="spacingAndGlyphs" stroke="#1c1c1c" stroke-width="0.38">43</text>
<circle cx="303.8" cy="385.8" r="7.0" fill="none" stroke="#1c1c1c" stroke-width="1.2"/>
<text x="303.90000000000003" y="388.90000000000003" font-family="Liberation Sans, sans-serif" font-size="8.8" font-style="italic" font-weight="normal" text-anchor="middle" fill="#1c1c1c" textLength="9.2" lengthAdjust="spacingAndGlyphs" stroke="#1c1c1c" stroke-width="0.38">15</text>
<circle cx="406.7" cy="390.8" r="7.6" fill="none" stroke="#1c1c1c" stroke-width="1.2"/>
<text x="406.8" y="393.90000000000003" font-family="Liberation Sans, sans-serif" font-size="8.8" font-style="italic" font-weight="normal" text-anchor="middle" fill="#1c1c1c" textLength="9.2" lengthAdjust="spacingAndGlyphs" stroke="#1c1c1c" stroke-width="0.38">54</text>
<circle cx="544.3" cy="432" r="7.6" fill="none" stroke="#1c1c1c" stroke-width="1.2"/>
<text x="544.4" y="435.1" font-family="Liberation Sans, sans-serif" font-size="8.8" font-style="italic" font-weight="normal" text-anchor="middle" fill="#1c1c1c" textLength="9.2" lengthAdjust="spacingAndGlyphs" stroke="#1c1c1c" stroke-width="0.38">21</text>
<circle cx="280" cy="464.5" r="7.0" fill="none" stroke="#1c1c1c" stroke-width="1.2"/>
<text x="280.1" y="467.6" font-family="Liberation Sans, sans-serif" font-size="8.8" font-style="italic" font-weight="normal" text-anchor="middle" fill="#1c1c1c" textLength="9.2" lengthAdjust="spacingAndGlyphs" stroke="#1c1c1c" stroke-width="0.38">16</text>
<circle cx="322.5" cy="464.4" r="7.0" fill="none" stroke="#1c1c1c" stroke-width="1.2"/>
<text x="322.6" y="467.5" font-family="Liberation Sans, sans-serif" font-size="8.8" font-style="italic" font-weight="normal" text-anchor="middle" fill="#1c1c1c" textLength="9.2" lengthAdjust="spacingAndGlyphs" stroke="#1c1c1c" stroke-width="0.38">17</text>
<circle cx="279.5" cy="515" r="7.0" fill="none" stroke="#1c1c1c" stroke-width="1.2"/>
<text x="279.6" y="518.1" font-family="Liberation Sans, sans-serif" font-size="8.8" font-style="italic" font-weight="normal" text-anchor="middle" fill="#1c1c1c" textLength="9.2" lengthAdjust="spacingAndGlyphs" stroke="#1c1c1c" stroke-width="0.38">18</text>
<circle cx="323.2" cy="514.6" r="7.0" fill="none" stroke="#1c1c1c" stroke-width="1.2"/>
<text x="323.3" y="517.7" font-family="Liberation Sans, sans-serif" font-size="8.8" font-style="italic" font-weight="normal" text-anchor="middle" fill="#1c1c1c" textLength="9.2" lengthAdjust="spacingAndGlyphs" stroke="#1c1c1c" stroke-width="0.38">19</text>
<circle cx="406.3" cy="484.8" r="7.6" fill="none" stroke="#1c1c1c" stroke-width="1.2"/>
<text x="406.40000000000003" y="487.90000000000003" font-family="Liberation Sans, sans-serif" font-size="8.8" font-style="italic" font-weight="normal" text-anchor="middle" fill="#1c1c1c" textLength="9.2" lengthAdjust="spacingAndGlyphs" stroke="#1c1c1c" stroke-width="0.38">55</text>
<text x="327.5" y="116.8" font-family="Liberation Sans, sans-serif" font-size="6.8" font-style="italic" font-weight="normal" text-anchor="middle" fill="#1c1c1c" textLength="29" lengthAdjust="spacingAndGlyphs" stroke="#1c1c1c" stroke-width="0.38">2.60&#177;Ac.</text>
<text x="280.3" y="156.9" font-family="Liberation Sans, sans-serif" font-size="6.8" font-style="italic" font-weight="normal" text-anchor="middle" fill="#1c1c1c" textLength="39.5" lengthAdjust="spacingAndGlyphs" stroke="#1c1c1c" stroke-width="0.38">10.405 &#177; Ac.</text>
<text x="328" y="166.6" font-family="Liberation Sans, sans-serif" font-size="6.8" font-style="italic" font-weight="normal" text-anchor="middle" fill="#1c1c1c" textLength="29" lengthAdjust="spacingAndGlyphs" stroke="#1c1c1c" stroke-width="0.38">2.60&#177;Ac.</text>
<text x="327.2" y="210.0" font-family="Liberation Sans, sans-serif" font-size="6.8" font-style="italic" font-weight="normal" text-anchor="middle" fill="#1c1c1c" textLength="29" lengthAdjust="spacingAndGlyphs" stroke="#1c1c1c" stroke-width="0.38">1.52&#177; Ac.</text>
<text x="362.8" y="155.4" font-family="Liberation Sans, sans-serif" font-size="6.8" font-style="italic" font-weight="normal" text-anchor="middle" fill="#1c1c1c" textLength="16.5" lengthAdjust="spacingAndGlyphs" stroke="#1c1c1c" stroke-width="0.38">2.50Ac.</text>
<text x="381.6" y="155.4" font-family="Liberation Sans, sans-serif" font-size="6.8" font-style="italic" font-weight="normal" text-anchor="middle" fill="#1c1c1c" textLength="16.5" lengthAdjust="spacingAndGlyphs" stroke="#1c1c1c" stroke-width="0.38">2.50Ac.</text>
<text x="400.6" y="155.4" font-family="Liberation Sans, sans-serif" font-size="6.8" font-style="italic" font-weight="normal" text-anchor="middle" fill="#1c1c1c" textLength="16.5" lengthAdjust="spacingAndGlyphs" stroke="#1c1c1c" stroke-width="0.38">2.50Ac.</text>
<text x="419.4" y="155.4" font-family="Liberation Sans, sans-serif" font-size="6.8" font-style="italic" font-weight="normal" text-anchor="middle" fill="#1c1c1c" textLength="16.5" lengthAdjust="spacingAndGlyphs" stroke="#1c1c1c" stroke-width="0.38">2.60Ac.</text>
<text x="473" y="156.0" font-family="Liberation Sans, sans-serif" font-size="6.8" font-style="italic" font-weight="normal" text-anchor="middle" fill="#1c1c1c" textLength="24" lengthAdjust="spacingAndGlyphs" stroke="#1c1c1c" stroke-width="0.38">10&#177; Ac.</text>
<text x="544.8" y="156.2" font-family="Liberation Sans, sans-serif" font-size="6.8" font-style="italic" font-weight="normal" text-anchor="middle" fill="#1c1c1c" textLength="24.5" lengthAdjust="spacingAndGlyphs" stroke="#1c1c1c" stroke-width="0.38">10 &#177;Ac.</text>
<text x="595.2" y="255.2" font-family="Liberation Sans, sans-serif" font-size="6.8" font-style="italic" font-weight="normal" text-anchor="middle" fill="#1c1c1c" textLength="31.5" lengthAdjust="spacingAndGlyphs" stroke="#1c1c1c" stroke-width="0.38">30&#177; Ac.</text>
<text x="310.6" y="231.6" font-family="Liberation Sans, sans-serif" font-size="6.8" font-style="italic" font-weight="normal" text-anchor="middle" fill="#1c1c1c" textLength="28" lengthAdjust="spacingAndGlyphs" stroke="#1c1c1c" stroke-width="0.38">2.50&#177; Ac.</text>
<text x="277" y="277.3" font-family="Liberation Sans, sans-serif" font-size="6.8" font-style="italic" font-weight="normal" text-anchor="middle" fill="#1c1c1c" textLength="26" lengthAdjust="spacingAndGlyphs" stroke="#1c1c1c" stroke-width="0.38">2.50&#177;Ac.</text>
<text x="327" y="277.3" font-family="Liberation Sans, sans-serif" font-size="6.8" font-style="italic" font-weight="normal" text-anchor="middle" fill="#1c1c1c" textLength="25" lengthAdjust="spacingAndGlyphs" stroke="#1c1c1c" stroke-width="0.38">2.50&#177;Ac.</text>
<text x="278.6" y="326.8" font-family="Liberation Sans, sans-serif" font-size="6.8" font-style="italic" font-weight="normal" text-anchor="middle" fill="#1c1c1c" textLength="26" lengthAdjust="spacingAndGlyphs" stroke="#1c1c1c" stroke-width="0.38">2.50&#177;Ac.</text>
<text x="329" y="326.8" font-family="Liberation Sans, sans-serif" font-size="6.8" font-style="italic" font-weight="normal" text-anchor="middle" fill="#1c1c1c" textLength="25" lengthAdjust="spacingAndGlyphs" stroke="#1c1c1c" stroke-width="0.38">2.50&#177;Ac.</text>
<text x="373.8" y="261" font-family="Liberation Sans, sans-serif" font-size="6.8" font-style="italic" font-weight="normal" text-anchor="middle" fill="#1c1c1c" textLength="24.5" lengthAdjust="spacingAndGlyphs" stroke="#1c1c1c" stroke-width="0.38">2.50&#177;Ac.</text>
<text x="412.6" y="261" font-family="Liberation Sans, sans-serif" font-size="6.8" font-style="italic" font-weight="normal" text-anchor="middle" fill="#1c1c1c" textLength="24" lengthAdjust="spacingAndGlyphs" stroke="#1c1c1c" stroke-width="0.38">2.50&#177;Ac.</text>
<text x="442.8" y="261" font-family="Liberation Sans, sans-serif" font-size="6.8" font-style="italic" font-weight="normal" text-anchor="middle" fill="#1c1c1c" textLength="19.5" lengthAdjust="spacingAndGlyphs" stroke="#1c1c1c" stroke-width="0.38">2.50Ac.</text>
<text x="485.8" y="261" font-family="Liberation Sans, sans-serif" font-size="6.8" font-style="italic" font-weight="normal" text-anchor="middle" fill="#1c1c1c" textLength="24" lengthAdjust="spacingAndGlyphs" stroke="#1c1c1c" stroke-width="0.38">2.50&#177; Ac.</text>
<text x="371.6" y="326.8" font-family="Liberation Sans, sans-serif" font-size="6.8" font-style="italic" font-weight="normal" text-anchor="middle" fill="#1c1c1c" textLength="24" lengthAdjust="spacingAndGlyphs" stroke="#1c1c1c" stroke-width="0.38">2.50&#177;Ac.</text>
<text x="409.4" y="326.8" font-family="Liberation Sans, sans-serif" font-size="6.8" font-style="italic" font-weight="normal" text-anchor="middle" fill="#1c1c1c" textLength="24.5" lengthAdjust="spacingAndGlyphs" stroke="#1c1c1c" stroke-width="0.38">2.50&#177;Ac.</text>
<text x="442.2" y="326.8" font-family="Liberation Sans, sans-serif" font-size="6.8" font-style="italic" font-weight="normal" text-anchor="middle" fill="#1c1c1c" textLength="20" lengthAdjust="spacingAndGlyphs" stroke="#1c1c1c" stroke-width="0.38">2.50Ac.</text>
<text x="485.5" y="326.8" font-family="Liberation Sans, sans-serif" font-size="6.8" font-style="italic" font-weight="normal" text-anchor="middle" fill="#1c1c1c" textLength="24.5" lengthAdjust="spacingAndGlyphs" stroke="#1c1c1c" stroke-width="0.38">2.50&#177;Ac.</text>
<text x="306" y="402.2" font-family="Liberation Sans, sans-serif" font-size="6.8" font-style="italic" font-weight="normal" text-anchor="middle" fill="#1c1c1c" textLength="23" lengthAdjust="spacingAndGlyphs" stroke="#1c1c1c" stroke-width="0.38">10 &#177; Ac.</text>
<text x="406.5" y="406.8" font-family="Liberation Sans, sans-serif" font-size="6.8" font-style="italic" font-weight="normal" text-anchor="middle" fill="#1c1c1c" textLength="23" lengthAdjust="spacingAndGlyphs" stroke="#1c1c1c" stroke-width="0.38">10&#177; Ac.</text>
<text x="545" y="449.2" font-family="Liberation Sans, sans-serif" font-size="6.8" font-style="italic" font-weight="normal" text-anchor="middle" fill="#1c1c1c" textLength="26" lengthAdjust="spacingAndGlyphs" stroke="#1c1c1c" stroke-width="0.38">40  Ac.</text>
<text x="280.8" y="478" font-family="Liberation Sans, sans-serif" font-size="6.8" font-style="italic" font-weight="normal" text-anchor="middle" fill="#1c1c1c" textLength="24.5" lengthAdjust="spacingAndGlyphs" stroke="#1c1c1c" stroke-width="0.38">2.50&#177;Ac.</text>
<text x="278" y="529.2" font-family="Liberation Sans, sans-serif" font-size="6.8" font-style="italic" font-weight="normal" text-anchor="middle" fill="#1c1c1c" textLength="24.5" lengthAdjust="spacingAndGlyphs" stroke="#1c1c1c" stroke-width="0.38">2.50&#177;Ac.</text>
<text x="410.5" y="501.8" font-family="Liberation Sans, sans-serif" font-size="6.8" font-style="italic" font-weight="normal" text-anchor="middle" fill="#1c1c1c" textLength="23" lengthAdjust="spacingAndGlyphs" stroke="#1c1c1c" stroke-width="0.38">10&#177; Ac.</text>
<text x="307.3" y="478.2" font-family="Liberation Sans, sans-serif" font-size="5.6" font-style="italic" font-weight="normal" text-anchor="start" fill="#1c1c1c" textLength="24.5" lengthAdjust="spacingAndGlyphs" stroke="#1c1c1c" stroke-width="0.28">2.50 &#177; Ac.</text>
<text x="307.3" y="483.4" font-family="Liberation Sans, sans-serif" font-size="5.6" font-style="italic" font-weight="normal" text-anchor="start" fill="#1c1c1c" textLength="28.5" lengthAdjust="spacingAndGlyphs" stroke="#1c1c1c" stroke-width="0.28">0.50 -- St.</text>
<line x1="307" y1="484.2" x2="339" y2="484.2" stroke="#1c1c1c" stroke-width="0.8"/>
<line x1="307" y1="479.2" x2="332" y2="479.2" stroke="#1c1c1c" stroke-width="0.5" opacity="0.6"/>
<text x="307.5" y="490.4" font-family="Liberation Sans, sans-serif" font-size="5.6" font-style="italic" font-weight="normal" text-anchor="start" fill="#1c1c1c" textLength="26.5" lengthAdjust="spacingAndGlyphs" stroke="#1c1c1c" stroke-width="0.28">2.00 &#177; Ac.</text>
<text x="307.3" y="529.7" font-family="Liberation Sans, sans-serif" font-size="5.6" font-style="italic" font-weight="normal" text-anchor="start" fill="#1c1c1c" textLength="24.5" lengthAdjust="spacingAndGlyphs" stroke="#1c1c1c" stroke-width="0.28">2.50 &#177; Ac.</text>
<text x="307.3" y="534.8" font-family="Liberation Sans, sans-serif" font-size="5.6" font-style="italic" font-weight="normal" text-anchor="start" fill="#1c1c1c" textLength="28.5" lengthAdjust="spacingAndGlyphs" stroke="#1c1c1c" stroke-width="0.28">0.41 -- St.</text>
<line x1="307" y1="535.3" x2="339" y2="535.3" stroke="#1c1c1c" stroke-width="0.8"/>
<line x1="307" y1="530.2" x2="332" y2="530.2" stroke="#1c1c1c" stroke-width="0.5" opacity="0.6"/>
<text x="307.5" y="541.8" font-family="Liberation Sans, sans-serif" font-size="5.6" font-style="italic" font-weight="normal" text-anchor="start" fill="#1c1c1c" textLength="32.5" lengthAdjust="spacingAndGlyphs" stroke="#1c1c1c" stroke-width="0.28">2.09&#177; Ac. 50</text>
<line x1="340.5" y1="539.4" x2="350" y2="539.4" stroke="#1c1c1c" stroke-width="0.8"/>
<path d="M337.5 528 Q340 531 346.5 533.5" fill="none" stroke="#1c1c1c" stroke-width="0.8" stroke-linecap="round" stroke-linejoin="round"/>
<path d="M347 536.5 L352 537.5 M355.5 537.5 L359 536.8 M357 535 L357 540" fill="none" stroke="#1c1c1c" stroke-width="0.8" stroke-linecap="round" stroke-linejoin="round"/>
<text x="257.5" y="209.3" font-family="Liberation Sans, sans-serif" font-size="6.4" font-style="italic" font-weight="normal" text-anchor="start" fill="#1c1c1c" textLength="17" lengthAdjust="spacingAndGlyphs" stroke="#1c1c1c" stroke-width="0.28">496.7</text>
<text x="257" y="240.4" font-family="Liberation Sans, sans-serif" font-size="5.8" font-style="italic" font-weight="normal" text-anchor="start" fill="#1c1c1c" textLength="81" lengthAdjust="spacingAndGlyphs" stroke="#1c1c1c" stroke-width="0.28">N. In. S. 10 Ac. W 26.25 Ac.</text>
<line x1="256.5" y1="241.5" x2="338.5" y2="241.5" stroke="#1c1c1c" stroke-width="0.7"/>
<text x="146" y="222.3" font-family="Liberation Sans, sans-serif" font-size="5.6" font-style="italic" font-weight="normal" text-anchor="start" fill="#1c1c1c" textLength="95" lengthAdjust="spacingAndGlyphs" stroke="#1c1c1c" stroke-width="0.28">N. In. S. 53.175 Ac., Lot 2, NW &#188;</text>
<text x="214.8" y="200" font-family="Liberation Sans, sans-serif" font-size="5.6" font-style="italic" font-weight="normal" text-anchor="start" fill="#1c1c1c" textLength="105" lengthAdjust="spacingAndGlyphs" transform="rotate(-90 214.8 200)" stroke="#1c1c1c" stroke-width="0.28">E. In. W. 50 Ac. lying N. of N. In. of</text>
<text x="221.6" y="200" font-family="Liberation Sans, sans-serif" font-size="5.6" font-style="italic" font-weight="normal" text-anchor="start" fill="#1c1c1c" textLength="86" lengthAdjust="spacingAndGlyphs" transform="rotate(-90 221.6 200)" stroke="#1c1c1c" stroke-width="0.28">S. 53.175 Ac. of Lot 2, NW &#188;</text>
<text x="303.2" y="204" font-family="Liberation Sans, sans-serif" font-size="6.2" font-style="italic" font-weight="normal" text-anchor="start" fill="#1c1c1c" textLength="94" lengthAdjust="spacingAndGlyphs" transform="rotate(-90 303.2 204)" stroke="#1c1c1c" stroke-width="0.28">Parallel to W. line Sec. 3</text>
<line x1="301.5" y1="196" x2="307.5" y2="196" stroke="#1c1c1c" stroke-width="0.5"/>
<line x1="301.5" y1="167" x2="307.5" y2="167" stroke="#1c1c1c" stroke-width="0.5"/>
<line x1="301.5" y1="138" x2="307.5" y2="138" stroke="#1c1c1c" stroke-width="0.5"/>
<line x1="301.5" y1="118" x2="307.5" y2="118" stroke="#1c1c1c" stroke-width="0.5"/>
<text x="358.6" y="281" font-family="Liberation Sans, sans-serif" font-size="5.8" font-style="italic" font-weight="normal" text-anchor="start" fill="#1c1c1c" textLength="120" lengthAdjust="spacingAndGlyphs" transform="rotate(-90 358.6 281)" stroke="#1c1c1c" stroke-width="0.28">W. In. E. 80 Ac. Lot 2, NE &#188;, Sec 3</text>
<text x="509.8" y="279.5" font-family="Liberation Sans, sans-serif" font-size="5.8" font-style="italic" font-weight="normal" text-anchor="start" fill="#1c1c1c" textLength="114.5" lengthAdjust="spacingAndGlyphs" transform="rotate(-90 509.8 279.5)" stroke="#1c1c1c" stroke-width="0.28">W. In. E. 40 Ac. Lot 2, NE &#188; Sec 3</text>
<text x="453.0" y="489.5" font-family="Liberation Sans, sans-serif" font-size="7.0" font-style="italic" font-weight="normal" text-anchor="start" fill="#1c1c1c" textLength="52" lengthAdjust="spacingAndGlyphs" transform="rotate(-90 453.0 489.5)" stroke="#1c1c1c" stroke-width="0.4">E. In. W 40 Ac.</text>
<path d="M447.6 496.5 L451 490 M447.6 496.5 L452.6 496.5" fill="none" stroke="#1c1c1c" stroke-width="0.9" stroke-linecap="round" stroke-linejoin="round"/>
<text x="438.5" y="435" font-family="Liberation Sans, sans-serif" font-size="5.2" font-style="italic" font-weight="normal" text-anchor="start" fill="#1c1c1c" textLength="10.5" lengthAdjust="spacingAndGlyphs" stroke="#1c1c1c" stroke-width="0.28">por.</text>
<text x="262" y="77.6" font-family="Liberation Sans, sans-serif" font-size="8.4" font-style="normal" font-weight="normal" text-anchor="start" fill="#1c1c1c" textLength="24.5" lengthAdjust="spacingAndGlyphs" stroke="#1c1c1c" stroke-width="0.22">T. 6 N.</text>
<text x="262" y="88.3" font-family="Liberation Sans, sans-serif" font-size="8.4" font-style="normal" font-weight="normal" text-anchor="start" fill="#1c1c1c" textLength="24.5" lengthAdjust="spacingAndGlyphs" stroke="#1c1c1c" stroke-width="0.22">T. 5 N.</text>
<text x="429.8" y="230.2" font-family="Liberation Sans, sans-serif" font-size="9.2" font-style="normal" font-weight="normal" text-anchor="start" fill="#1c1c1c" textLength="17.8" lengthAdjust="spacingAndGlyphs" stroke="#1c1c1c" stroke-width="0.3">LOT</text>
<text x="457.3" y="230.2" font-family="Liberation Sans, sans-serif" font-size="9.2" font-style="normal" font-weight="normal" text-anchor="start" fill="#1c1c1c" stroke="#1c1c1c" stroke-width="0.3">2</text>
<text x="424.0" y="431.0" font-family="Liberation Sans, sans-serif" font-size="10.2" font-style="normal" font-weight="normal" text-anchor="start" fill="#1c1c1c" textLength="23.4" lengthAdjust="spacingAndGlyphs" stroke="#1c1c1c" stroke-width="0.3">LOT  I</text>
<text x="344.2" y="475.8" font-family="Liberation Sans, sans-serif" font-size="11.8" font-style="normal" font-weight="normal" text-anchor="start" fill="#1c1c1c" textLength="27" lengthAdjust="spacingAndGlyphs" transform="rotate(-90 344.2 475.8)" stroke="#1c1c1c" stroke-width="0.22">ST. E.</text>
<text x="345" y="530.5" font-family="Liberation Sans, sans-serif" font-size="11.2" font-style="normal" font-weight="normal" text-anchor="start" fill="#1c1c1c" textLength="35" lengthAdjust="spacingAndGlyphs" transform="rotate(-90 345 530.5)" stroke="#1c1c1c" stroke-width="0.22">240TH</text>
<text x="251.4" y="550.4" font-family="Liberation Sans, sans-serif" font-size="14.5" font-style="normal" font-weight="normal" text-anchor="start" fill="#1c1c1c" stroke="#1c1c1c" stroke-width="0.1">3</text>
<circle cx="455.7" cy="58.8" r="17.4" fill="none" stroke="#1c1c1c" stroke-width="1.1"/>
<text x="456.3" y="55.6" font-family="Liberation Sans, sans-serif" font-size="9.6" font-style="normal" font-weight="normal" text-anchor="middle" fill="#1c1c1c" textLength="19.5" lengthAdjust="spacingAndGlyphs" stroke="#1c1c1c" stroke-width="0.22">B K.</text>
<text x="455.7" y="66.4" font-family="Liberation Sans, sans-serif" font-size="10.4" font-style="normal" font-weight="normal" text-anchor="middle" fill="#1c1c1c" textLength="26" lengthAdjust="spacingAndGlyphs" stroke="#1c1c1c" stroke-width="0.22">3091</text>
<circle cx="224.5" cy="340.8" r="11.9" fill="none" stroke="#1c1c1c" stroke-width="1.1"/>
<text x="224.5" y="344.8" font-family="Liberation Sans, sans-serif" font-size="11" font-style="normal" font-weight="normal" text-anchor="middle" fill="#1c1c1c" stroke="#1c1c1c" stroke-width="0.22">13</text>
<circle cx="690.8" cy="340.8" r="11.9" fill="none" stroke="#1c1c1c" stroke-width="1.1"/>
<text x="689.5" y="344.8" font-family="Liberation Sans, sans-serif" font-size="10.5" font-style="normal" font-weight="bold" text-anchor="middle" fill="#1c1c1c" stroke="#1c1c1c" stroke-width="0.22">4</text>
<circle cx="458.8" cy="574.5" r="11.9" fill="none" stroke="#1c1c1c" stroke-width="1.1"/>
<text x="458.8" y="578.5" font-family="Liberation Sans, sans-serif" font-size="11" font-style="normal" font-weight="normal" text-anchor="middle" fill="#1c1c1c" stroke="#1c1c1c" stroke-width="0.22">17</text>
<text transform="translate(735.6 83.1) scale(1.2 1)" x="0" y="0" font-family="Liberation Serif, serif" font-size="32.4" font-weight="bold" fill="#111" stroke="#111" stroke-width="0.9">2</text>
<text transform="translate(758.0 85.1) scale(1.12 1)" x="0" y="0" font-family="Liberation Serif, serif" font-size="29.6" font-weight="bold" fill="#111" stroke="#111" stroke-width="0.9">0</text>
<text transform="translate(776.2 87.6) scale(1.2 1)" x="0" y="0" font-family="Liberation Serif, serif" font-size="27.8" font-weight="bold" fill="#111" stroke="#111" stroke-width="0.9">0</text>
<text transform="translate(795.6 88.8) scale(1.06 1)" x="0" y="0" font-family="Liberation Serif, serif" font-size="29.6" font-weight="bold" fill="#111" stroke="#111" stroke-width="0.9">2</text>
<text x="931.5" y="30.5" font-family="Liberation Sans, sans-serif" font-size="9.4" font-style="italic" font-weight="normal" text-anchor="start" fill="#1c1c1c" textLength="68" lengthAdjust="spacingAndGlyphs" stroke="#1c1c1c" stroke-width="0.28">86031880/-86</text>
<text x="926.3" y="36.2" font-family="Liberation Sans, sans-serif" font-size="6.0" font-style="italic" font-weight="bold" text-anchor="start" fill="#1c1c1c" textLength="73" lengthAdjust="spacingAndGlyphs" stroke="#1c1c1c" stroke-width="0.28">200112270400Z001-A1</text>
<text x="73" y="587.3" font-family="Liberation Sans, sans-serif" font-size="9.0" font-style="normal" font-weight="normal" text-anchor="start" fill="#1c1c1c" textLength="22.3" lengthAdjust="spacingAndGlyphs" stroke="#1c1c1c" stroke-width="0.35">CODE</text>
<text x="73" y="596.6" font-family="Liberation Sans, sans-serif" font-size="9.3" font-style="normal" font-weight="normal" text-anchor="start" fill="#1c1c1c" textLength="25" lengthAdjust="spacingAndGlyphs" stroke="#1c1c1c" stroke-width="0.3">4668</text>
<text x="73" y="657.0" font-family="Liberation Sans, sans-serif" font-size="9.0" font-style="normal" font-weight="normal" text-anchor="start" fill="#1c1c1c" textLength="103" lengthAdjust="spacingAndGlyphs" stroke="#1c1c1c" stroke-width="0.35">FOR PREV. ASSM&#8217;T SEE:</text>
<text x="73" y="664.0" font-family="Liberation Sans, sans-serif" font-size="6.0" font-style="normal" font-weight="bold" text-anchor="start" fill="#1c1c1c" textLength="41.5" lengthAdjust="spacingAndGlyphs" stroke="#1c1c1c" stroke-width="0.22">3032 - 38</text>
<text x="233.4" y="650.7" font-family="Liberation Sans, sans-serif" font-size="12.8" font-style="normal" font-weight="normal" text-anchor="start" fill="#1c1c1c" textLength="69.4" lengthAdjust="spacingAndGlyphs" stroke="#1c1c1c" stroke-width="0.3">T. 5 N., R. 8 W.</text>
<g transform="rotate(1.8 896.7 631.7)" font-family="Liberation Sans, sans-serif" font-size="12.6" font-weight="bold" fill="#151515" stroke="#151515" stroke-width="0.3"><text x="896.7" y="631.7" textLength="18" lengthAdjust="spacingAndGlyphs">DEC</text><text x="919.4" y="631.7" textLength="4.9" lengthAdjust="spacingAndGlyphs">2</text><text x="929.7" y="631.7" textLength="4.3" lengthAdjust="spacingAndGlyphs">7</text><text x="938.5" y="631.7" textLength="19" lengthAdjust="spacingAndGlyphs">2001</text></g>
<text x="865.8" y="660.9" font-family="Liberation Sans, sans-serif" font-size="9.0" font-style="normal" font-weight="normal" text-anchor="start" fill="#1c1c1c" textLength="73.4" lengthAdjust="spacingAndGlyphs" stroke="#1c1c1c" stroke-width="0.35">ASSESSOR&#8217;S MAP</text>
<text x="820.5" y="672.3" font-family="Liberation Sans, sans-serif" font-size="10.8" font-style="normal" font-weight="normal" text-anchor="start" fill="#1c1c1c" textLength="164.5" lengthAdjust="spacingAndGlyphs" stroke="#1c1c1c" stroke-width="0.3">COUNTY OF LOS ANGELES, CALIF.</text></g>
</svg>
</body></html>
